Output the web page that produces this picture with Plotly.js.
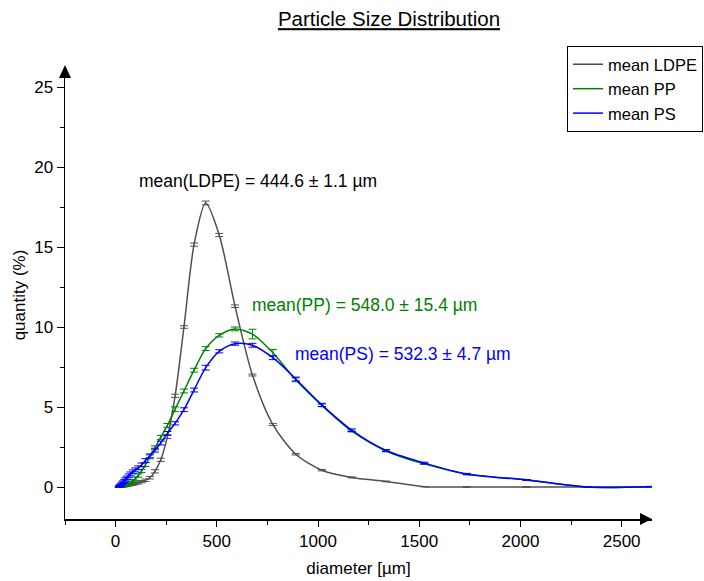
<!DOCTYPE html>
<html>
<head>
<meta charset="utf-8">
<script src="https://cdn.plot.ly/plotly-3.0.1.min.js"></script>
<style>html,body{margin:0;padding:0;background:#fff;}#chart{width:704px;height:581px;}</style>
</head>
<body>
<div id="chart"></div>
<script>
// Shared diameter grid [µm]
var diameter = [16.2, 18.6, 21.4, 24.5, 28.1, 32.3, 37.1, 42.6, 48.9, 56.1, 64.4, 74.0, 84.9, 97.5, 111.9, 128.5, 147.5, 169.3, 194.4, 223.0, 256.0, 294.0, 337.7, 387.6, 445.0, 512.0, 590.0, 676.0, 777.0, 890.0, 1019.0, 1166.0, 1336.0, 1525.0, 1735.0, 2030.0, 2330.0, 2640.0];

var ldpe = [0.0, 0.0, 0.01, 0.01, 0.02, 0.03, 0.04, 0.05, 0.07, 0.09, 0.11, 0.14, 0.17, 0.21, 0.26, 0.33, 0.42, 0.58, 0.98, 1.7, 3.15, 5.7, 10.0, 15.15, 17.75, 15.75, 11.3, 7.0, 3.9, 2.05, 1.05, 0.6, 0.35, 0.02, 0.0, 0.0, 0.0, 0.0];
var ldpeErr = [0.02, 0.02, 0.02, 0.02, 0.02, 0.03, 0.03, 0.03, 0.04, 0.04, 0.05, 0.05, 0.06, 0.06, 0.07, 0.07, 0.08, 0.08, 0.1, 0.1, 0.12, 0.1, 0.08, 0.1, 0.12, 0.1, 0.08, 0.06, 0.06, 0.05, 0.04, 0.03, 0.02, 0.01, 0.01, 0.01, 0.01, 0.01];

var pp = [0.0, 0.0, 0.01, 0.01, 0.02, 0.03, 0.05, 0.07, 0.1, 0.14, 0.2, 0.28, 0.38, 0.52, 0.72, 1.0, 1.4, 1.88, 2.45, 3.1, 3.85, 4.86, 6.0, 7.3, 8.65, 9.48, 9.88, 9.56, 8.39, 6.7, 5.1, 3.5, 2.25, 1.45, 0.82, 0.45, 0.0, 0.02];
var ppErr = [0.02, 0.02, 0.03, 0.03, 0.04, 0.04, 0.05, 0.05, 0.06, 0.06, 0.07, 0.08, 0.08, 0.1, 0.1, 0.1, 0.12, 0.12, 0.12, 0.12, 0.12, 0.15, 0.12, 0.12, 0.12, 0.1, 0.12, 0.3, 0.2, 0.12, 0.08, 0.06, 0.05, 0.04, 0.03, 0.02, 0.01, 0.01];

var ps = [0.02, 0.05, 0.08, 0.12, 0.17, 0.23, 0.3, 0.38, 0.48, 0.58, 0.7, 0.82, 0.95, 1.07, 1.2, 1.38, 1.65, 1.95, 2.3, 2.75, 3.35, 3.98, 4.83, 6.06, 7.46, 8.48, 8.96, 8.86, 8.08, 6.75, 5.13, 3.55, 2.28, 1.5, 0.8, 0.44, 0.0, 0.02];
var psErr = [0.04, 0.05, 0.06, 0.06, 0.07, 0.08, 0.08, 0.1, 0.1, 0.1, 0.12, 0.12, 0.12, 0.12, 0.12, 0.12, 0.12, 0.12, 0.12, 0.12, 0.12, 0.1, 0.12, 0.12, 0.15, 0.1, 0.1, 0.12, 0.12, 0.12, 0.1, 0.08, 0.06, 0.05, 0.04, 0.03, 0.02, 0.02];

var seriesNames = ['mean LDPE', 'mean PP', 'mean PS'];
var seriesColors = ['#505050', '#008000', '#0000ff'];
var meanLabels = ['mean(LDPE) = 444.6 ± 1.1 µm', 'mean(PP) = 548.0 ± 15.4 µm', 'mean(PS) = 532.3 ± 4.7 µm'];

var xTickVals = [0, 500, 1000, 1500, 2000, 2500];
var yTickVals = [0, 5, 10, 15, 20, 25];

var FONT = 'Arial, "Liberation Sans", sans-serif';

function mk(y, err, i) {
  return {
    x: diameter, y: y, type: 'scatter', mode: 'lines', name: seriesNames[i],
    line: {color: seriesColors[i], width: 1.5, shape: 'spline', smoothing: 0.8},
    error_y: {type: 'data', array: err, visible: true, color: seriesColors[i], thickness: 1, width: 4}
  };
}

var data = [mk(ldpe, ldpeErr, 0), mk(pp, ppErr, 1), mk(ps, psErr, 2)];

var L = 65, R = 52, T = 71, B = 62, W = 704, H = 581;
var pw = W - L - R, ph = H - T - B;

var layout = {
  width: W, height: H,
  margin: {l: L, r: R, t: T, b: B, autoexpand: false},
  paper_bgcolor: '#ffffff', plot_bgcolor: '#ffffff',
  font: {family: FONT, size: 17, color: '#000'},
  title: {text: '<u>Particle Size Distribution</u>', font: {family: FONT, size: 20.5, color: '#000'},
          x: 389/704, xref: 'container', xanchor: 'center', y: 1 - 19/581, yref: 'container', yanchor: 'middle'},
  showlegend: true,
  legend: {xref: 'paper', yref: 'paper', x: (567 - L)/pw, y: (H - B - 46)/ph, xanchor: 'left', yanchor: 'top',
           bordercolor: '#000', borderwidth: 1, bgcolor: '#fff', font: {family: FONT, size: 16.5, color: '#000'},
           tracegroupgap: 0, itemwidth: 30},
  xaxis: {
    range: [-250, 2650], tickvals: xTickVals, ticks: 'outside', ticklen: 6, tickwidth: 1, tickcolor: '#000',
    showline: true, linecolor: '#000', linewidth: 1.5, showgrid: false, zeroline: false,
    minor: {dtick: 250, tick0: 0, ticks: 'outside', ticklen: 4, tickcolor: '#000', showgrid: false},
    tickfont: {family: FONT, size: 17, color: '#000'},
    title: {text: 'diameter [µm]', font: {family: FONT, size: 17, color: '#000'}, standoff: 12}
  },
  yaxis: {
    range: [-2, 26], tickvals: yTickVals, ticks: 'outside', ticklen: 7, tickwidth: 1, tickcolor: '#000',
    showline: true, linecolor: '#000', linewidth: 1.5, showgrid: false, zeroline: false,
    minor: {dtick: 2.5, tick0: 0, ticks: 'outside', ticklen: 4, tickcolor: '#000', showgrid: false},
    tickfont: {family: FONT, size: 17, color: '#000'},
    title: {text: 'quantity (%)', font: {family: FONT, size: 17, color: '#000'}, standoff: 4}
  },
  annotations: [
    {x: 704, y: 19.1, xref: 'x', yref: 'y', text: meanLabels[0], showarrow: false, font: {family: FONT, size: 17.5, color: '#000'}},
    {x: 1232, y: 11.4, xref: 'x', yref: 'y', text: meanLabels[1], showarrow: false, font: {family: FONT, size: 17.5, color: '#008000'}},
    {x: 1418, y: 8.3, xref: 'x', yref: 'y', text: meanLabels[2], showarrow: false, font: {family: FONT, size: 17.5, color: '#0000ff'}}
  ],
  shapes: [
    {type: 'path', xref: 'paper', yref: 'paper', xsizemode: 'pixel', ysizemode: 'pixel', xanchor: 1, yanchor: 0,
     path: 'M -12,6 L 0,0 L -12,-6 Z', fillcolor: '#000', line: {width: 0}},
    {type: 'path', xref: 'paper', yref: 'paper', xsizemode: 'pixel', ysizemode: 'pixel', xanchor: 0, yanchor: 1,
     path: 'M -6,-7 L 0,6 L 6,-7 Z', fillcolor: '#000', line: {width: 0}}
  ]
};

Plotly.newPlot('chart', data, layout, {displayModeBar: false, staticPlot: true});
</script>
</body>
</html>
